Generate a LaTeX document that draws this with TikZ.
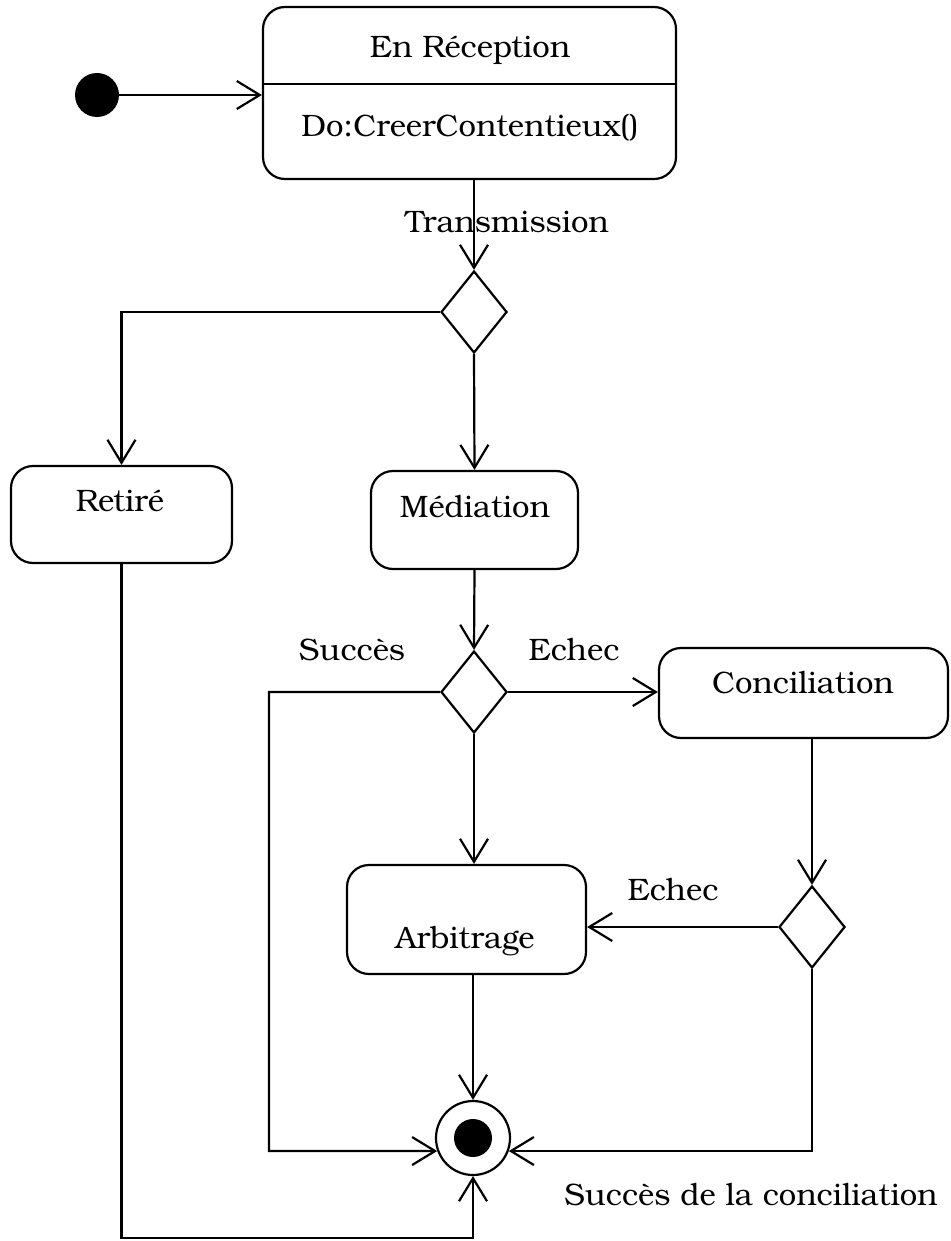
\documentclass[tikz,border=0pt]{standalone}
\usepackage{fontspec}
\setmainfont{TeX Gyre Bonum}
\usepackage{tikz}
\usetikzlibrary{positioning, arrows.meta, shapes.geometric}

\begin{document}
\begin{tikzpicture}[
    x=0.5pt, y=-0.5pt,
    every node/.style={font=\fontsize{15.5}{19}\selectfont},
    state/.style={rectangle, draw, line width=1.1pt, rounded corners=11pt, inner sep=0pt},
    decision/.style={diamond, draw, line width=1.1pt, inner sep=0pt, minimum width=33pt, minimum height=41pt},
    arrow/.style={-{Straight Barb[length=11.5pt, width=14pt, line width=1.1pt]}, line width=1.1pt},
    txt/.style={anchor=base, inner sep=0pt}
]
\useasboundingbox (0,0) rectangle (950,1241);

% Initial state
\node[circle, fill, minimum size=22pt, inner sep=0pt] (init) at (97, 95) {};

% En Reception
\node[state, minimum width=206.5pt, minimum height=86pt] (reception) at (469.5, 93) {};
\draw[line width=1.1pt] (reception.west |- 0,84) -- (reception.east |- 0,84);
\node[txt] (reception-name) at (470, 58) {En Réception};
\node[txt] (reception-do) at (470, 137) {Do:CreerContentieux()};

% Decisions
\node[decision] (dec-trans) at (474, 312) {};
\node[decision] (dec-med) at (474, 692) {};
\node[decision] (dec-conc) at (812, 927) {};

% States
\node[state, minimum width=110.5pt, minimum height=48.5pt] (retire) at (121.5, 514.5) {};
\node[txt] (retire-txt) at (120, 511) {Retiré};

\node[state, minimum width=103.5pt, minimum height=49pt] (mediation) at (474.5, 520) {};
\node[txt] (mediation-txt) at (475, 517) {Médiation};

\node[state, minimum width=144.5pt, minimum height=45pt] (conciliation) at (803.5, 693) {};
\node[txt] (conciliation-txt) at (803, 693) {Conciliation};

\node[state, minimum width=119.5pt, minimum height=54.5pt] (arbitrage) at (466.5, 919.5) {};
\node[txt] (arbitrage-txt) at (465, 948) {Arbitrage};

% Final state
\node[circle, draw, line width=1.1pt, minimum size=37pt, inner sep=0pt] (final) at (473, 1138) {};
\node[circle, fill, minimum size=19pt, inner sep=0pt] (final-dot) at (final) {};

% Labels
\node[txt] (lbl-trans) at (507, 233) {Transmission};
\node[txt] (lbl-succes) at (352, 660) {Succès};
\node[txt] (lbl-echec) at (574, 660) {Echec};
\node[txt] (lbl-echec2) at (673, 900) {Echec};
\node[txt] (lbl-conc) at (751, 1205) {Succès de la conciliation};

% Corners
\coordinate (c-succes) at (269, 1151);
\coordinate (c-bas) at (473, 1238);

% Arrows
\draw[arrow] (init) -- (init -| reception.west);
\draw[arrow] (dec-trans.north |- reception.south) -- (dec-trans.north);
\draw[arrow] (dec-trans.west) -| (retire.north);
\draw[arrow] (dec-trans.south) -- (mediation.north);
\draw[arrow] (mediation.south) -- (dec-med.north);
\draw[arrow] (dec-med.east) -- (dec-med.east -| conciliation.west);
\draw[arrow] (dec-med.south) -- (dec-med.south |- arbitrage.north);
\draw[arrow] (dec-med.west) -| (c-succes) -- (final.200);
\draw[arrow] (dec-conc.north |- conciliation.south) -- (dec-conc.north);
\draw[arrow] (dec-conc.west) -- (dec-conc.west -| arbitrage.east);
\draw[arrow] (dec-conc.south) |- (final.340);
\draw[arrow] (final.north |- arbitrage.south) -- (final.north);
\draw[arrow] (retire.south) |- (c-bas) -- (final.south);

\end{tikzpicture}
\end{document}
